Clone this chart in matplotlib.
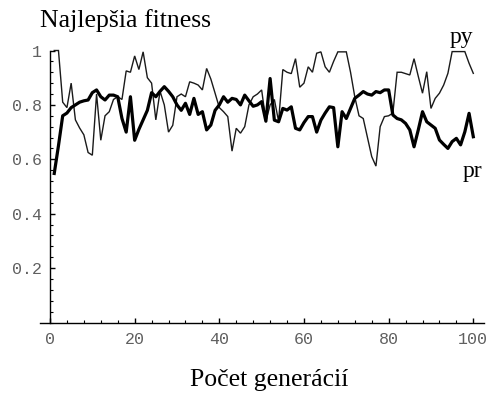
import matplotlib
matplotlib.use("Agg")
import matplotlib.pyplot as plt
from matplotlib.ticker import MultipleLocator, FixedLocator

# Best fitness per generation for two runs
generations = list(range(1, 101))

py = [1.00, 1.00, 0.81, 0.79, 0.88, 0.745, 0.715, 0.69, 0.625, 0.615,
      0.84, 0.67, 0.76, 0.775, 0.82, 0.83, 0.82, 0.925, 0.92, 0.98,
      0.93, 0.995, 0.90, 0.88, 0.745, 0.85, 0.80, 0.70, 0.725, 0.83,
      0.84, 0.83, 0.885, 0.88, 0.873, 0.855, 0.934, 0.895, 0.843, 0.79,
      0.775, 0.757, 0.63, 0.714, 0.696, 0.72, 0.80, 0.83, 0.84, 0.855,
      0.74, 0.80, 0.82, 0.74, 0.93, 0.92, 0.915, 0.97, 0.865, 0.88,
      0.94, 0.92, 0.99, 0.995, 0.94, 0.92, 0.96, 0.995, 0.995, 0.995,
      0.92, 0.83, 0.76, 0.75, 0.68, 0.61, 0.575, 0.72, 0.757, 0.76,
      0.77, 0.92, 0.92, 0.915, 0.91, 0.97, 0.905, 0.843, 0.922, 0.787,
      0.824, 0.843, 0.873, 0.916, 0.996, 0.996, 0.996, 0.996, 0.953, 0.916]

pr = [0.548, 0.65, 0.76, 0.77, 0.79, 0.80, 0.81, 0.815, 0.818, 0.845,
      0.855, 0.83, 0.818, 0.836, 0.836, 0.83, 0.75, 0.70, 0.83, 0.67,
      0.71, 0.745, 0.78, 0.845, 0.83, 0.85, 0.867, 0.85, 0.83, 0.80,
      0.78, 0.806, 0.765, 0.824, 0.765, 0.775, 0.708, 0.726, 0.78, 0.80,
      0.83, 0.81, 0.824, 0.82, 0.80, 0.836, 0.815, 0.795, 0.80, 0.812,
      0.74, 0.897, 0.744, 0.738, 0.787, 0.781, 0.793, 0.714, 0.708, 0.735,
      0.757, 0.757, 0.70, 0.744, 0.77, 0.793, 0.79, 0.646, 0.775, 0.75,
      0.787, 0.824, 0.836, 0.849, 0.84, 0.836, 0.849, 0.845, 0.855, 0.855,
      0.763, 0.75, 0.745, 0.732, 0.708, 0.646, 0.708, 0.775, 0.738, 0.726,
      0.714, 0.671, 0.655, 0.64, 0.665, 0.677, 0.653, 0.701, 0.769, 0.683]

x_ticks = [0, 20, 40, 60, 80, 100]
y_ticks = [0.2, 0.4, 0.6, 0.8, 1.0]
y_tick_labels = ["0.2", "0.4", "0.6", "0.8", "1"]

W, H = 491, 394
fig = plt.figure(figsize=(W / 100, H / 100), dpi=100)

# axes box in pixel coordinates
x0_px, x_scale = 50.0, 4.233
xmin, xmax = -2.4, 102.6
left_px = x0_px + xmin * x_scale
right_px = x0_px + xmax * x_scale
bottom_px, top_px = 322.5, 50.5
ax = fig.add_axes([left_px / W, 1 - bottom_px / H,
                   (right_px - left_px) / W, (bottom_px - top_px) / H])
ax.set_xlim(xmin, xmax)
ax.set_ylim(0, 1.0)

ax.plot(generations, py, color="#1a1a1a", lw=1.0, clip_on=False,
        solid_joinstyle="miter")
ax.plot(generations, pr, color="black", lw=2.3, clip_on=False,
        solid_joinstyle="round")

for s in ["top", "right"]:
    ax.spines[s].set_visible(False)
ax.spines["left"].set_position(("data", 0))
ax.spines["bottom"].set_position(("data", 0))
ax.spines["left"].set_linewidth(1.0)
ax.spines["bottom"].set_linewidth(1.0)

ax.xaxis.set_major_locator(FixedLocator(x_ticks))
ax.xaxis.set_minor_locator(MultipleLocator(4))
ax.yaxis.set_major_locator(FixedLocator(y_ticks))
ax.yaxis.set_minor_locator(MultipleLocator(0.04))
ax.set_yticklabels(y_tick_labels)

for lab in ax.get_xticklabels() + ax.get_yticklabels():
    lab.set_fontfamily("Liberation Mono")
    lab.set_fontsize(12)
    lab.set_color("#606060")

ax.tick_params(which="major", direction="in", length=3.5, width=1.0,
               colors="black", labelcolor="#606060")
ax.tick_params(which="minor", direction="in", length=2.0, width=0.8,
               colors="black")
ax.tick_params(axis="x", pad=7)
ax.tick_params(axis="y", pad=6)

serif = "Liberation Serif"
fig.text(40 / W, 1 - 27 / H, "Najlepšia fitness", family=serif, size=18.5,
         ha="left", va="baseline")
fig.text(269 / W, 1 - 386 / H, "Počet generácií", family=serif, size=18.5,
         ha="center", va="baseline")
fig.text(461 / W, 1 - 42.5 / H, "py", family=serif, size=17,
         ha="center", va="baseline")
fig.text(472 / W, 1 - 176.5 / H, "pr", family=serif, size=17,
         ha="center", va="baseline")

fig.savefig("out.png", dpi=100)
